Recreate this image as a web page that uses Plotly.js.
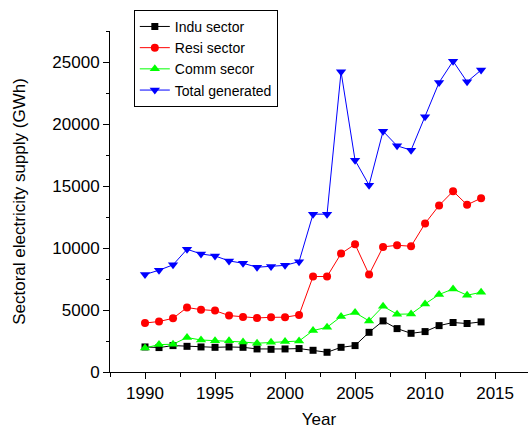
<!DOCTYPE html>
<html>
<head>
<meta charset="utf-8">
<script src="https://cdn.plot.ly/plotly-3.0.1.min.js"></script>
<style>
html,body{margin:0;padding:0;background:#fff;}
#chart{width:528px;height:429px;}
</style>
</head>
<body>
<div id="chart"></div>
<script>
const years = [1990,1991,1992,1993,1994,1995,1996,1997,1998,1999,2000,2001,2002,2003,2004,2005,2006,2007,2008,2009,2010,2011,2012,2013,2014];
const indu = [2020,1970,2130,2070,2020,1990,2020,1990,1860,1830,1860,1890,1750,1590,1990,2130,3200,4120,3500,3120,3260,3740,3990,3910,4040];
const resi = [3950,4070,4330,5200,5030,4950,4550,4440,4360,4410,4420,4600,7700,7700,9550,10300,7860,10090,10220,10140,11980,13430,14580,13480,14020];
const comm = [1940,2210,2240,2780,2580,2530,2530,2420,2320,2400,2450,2500,3340,3610,4470,4790,4120,5300,4660,4680,5490,6250,6700,6190,6430];
const total = [7860,8210,8640,9900,9520,9360,8960,8770,8450,8510,8600,8900,12730,12730,24210,17080,15070,19420,18240,17890,20580,23350,25070,23400,24350];
const seriesNames = ["Indu sector","Resi sector","Comm secor","Total generated"];

const mk = (y, name, color, symbol, size) => ({
  x: years, y: y, name: name, type: 'scatter', mode: 'lines+markers',
  line: {color: color, width: 1},
  marker: {color: color, symbol: symbol, size: size, line: {width: 0}}
});

const data = [
  mk(indu, seriesNames[0], '#000000', 'square', 7),
  mk(resi, seriesNames[1], '#FF0000', 'circle', 8),
  mk(comm, seriesNames[2], '#00FF00', 'triangle-up', 9),
  mk(total, seriesNames[3], '#0000FF', 'triangle-down', 9)
];

const axisFont = {family: 'Liberation Sans, Arial, sans-serif', size: 17, color: '#000'};

const layout = {
  width: 528, height: 429,
  margin: {l: 110, r: 0, t: 31, b: 57},
  paper_bgcolor: '#fff', plot_bgcolor: '#fff',
  font: {family: 'Liberation Sans, Arial, sans-serif', color: '#000'},
  showlegend: true,
  legend: {
    x: 0.057, y: 1.062, xanchor: 'left', yanchor: 'top',
    bordercolor: '#000', borderwidth: 1, bgcolor: '#fff',
    font: {family: 'Liberation Sans, Arial, sans-serif', size: 14, color: '#000'},
    itemwidth: 30, tracegroupgap: 0
  },
  xaxis: {
    range: [1987.5, 2017.35], showgrid: false, zeroline: false,
    showline: true, linecolor: '#000', linewidth: 1,
    ticks: 'outside', ticklen: 6, tickwidth: 1, tickcolor: '#000',
    tick0: 1990, dtick: 5, tickfont: axisFont,
    minor: {ticks: 'outside', ticklen: 3.5, tickwidth: 1, tickcolor: '#000', dtick: 2.5, tick0: 1987.5, showgrid: false},
    title: {text: 'Year', font: axisFont, standoff: 12}
  },
  yaxis: {
    range: [0, 27500], showgrid: false, zeroline: false,
    showline: true, linecolor: '#000', linewidth: 1,
    ticks: 'outside', ticklen: 6, tickwidth: 1, tickcolor: '#000',
    tick0: 0, dtick: 5000, tickfont: axisFont, tickformat: 'd',
    minor: {ticks: 'outside', ticklen: 3.5, tickwidth: 1, tickcolor: '#000', dtick: 2500, tick0: 0, showgrid: false},
    title: {text: 'Sectoral electricity supply (GWh)', font: axisFont, standoff: 22}
  }
};

Plotly.newPlot('chart', data, layout, {displayModeBar: false, staticPlot: true});
</script>
</body>
</html>
